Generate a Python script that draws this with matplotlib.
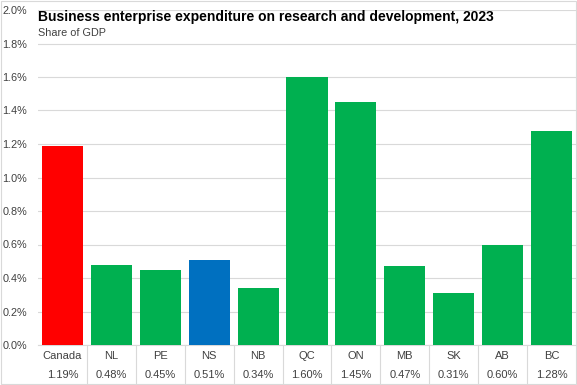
import numpy as np
import matplotlib.pyplot as plt
from matplotlib.patches import Rectangle
from matplotlib.lines import Line2D

# data
regions = ["Canada", "NL", "PE", "NS", "NB", "QC", "ON", "MB", "SK", "AB", "BC"]
share = [1.19, 0.48, 0.45, 0.51, 0.34, 1.60, 1.45, 0.47, 0.31, 0.60, 1.28]
colors = ["#FF0000", "#00B050", "#00B050", "#0070C0", "#00B050", "#00B050",
          "#00B050", "#00B050", "#00B050", "#00B050", "#00B050"]
yticks = np.arange(0, 2.01, 0.2)

plt.rcParams['font.family'] = ['Liberation Sans', 'DejaVu Sans']

fig = plt.figure(figsize=(5.77, 3.85), dpi=100)
ax = fig.add_axes([38/577, 40/385, 538/577, 335/385])

x = np.arange(len(regions))
ax.bar(x, share, width=0.84, color=colors, zorder=3)
ax.set_xlim(-0.5, len(regions) - 0.5)
ax.set_ylim(0, 2.0)
ax.set_yticks(yticks)
ax.set_yticklabels([f"{v:.1f}%" for v in yticks], fontsize=7.8, color="#404040")
ax.tick_params(axis="y", length=0, pad=8)
ax.set_xticks([])
ax.grid(axis="y", color="#D9D9D9", linewidth=0.8, zorder=0)
for s in ["top", "right", "left"]:
    ax.spines[s].set_visible(False)
ax.spines["bottom"].set_color("#D9D9D9")
ax.spines["bottom"].set_linewidth(0.8)

# data table under the axis
trans = ax.get_xaxis_transform()
for i, (r, v) in enumerate(zip(regions, share)):
    ax.text(i, -0.033, r, transform=trans, ha="center", va="center",
            fontsize=8, color="#404040")
    ax.text(i, -0.09, f"{v:.2f}%", transform=trans, ha="center", va="center",
            fontsize=8, color="#404040")
for i in range(1, len(regions)):
    ax.add_line(Line2D([i - 0.5, i - 0.5], [0, -0.12], transform=trans,
                       color="#D9D9D9", linewidth=0.8, clip_on=False))

fig.text(38/577, 1 - 17/385, "Business enterprise expenditure on research and development, 2023",
         fontsize=10, fontweight="bold", va="center", ha="left")
fig.text(38/577, 1 - 33/385, "Share of GDP", fontsize=7.8, va="center", ha="left", color="#404040")

fig.patches.append(Rectangle((0.002, 0.003), 0.996, 0.994, transform=fig.transFigure,
                             fill=False, edgecolor="#D9D9D9", linewidth=0.8))

fig.savefig("out.png", dpi=100)
